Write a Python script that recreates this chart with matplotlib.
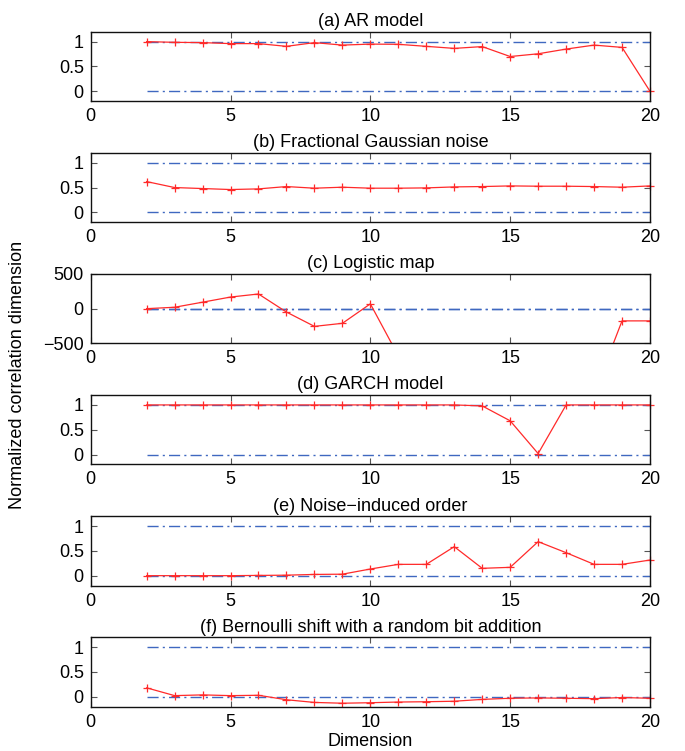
import matplotlib
matplotlib.use("Agg")
import matplotlib.pyplot as plt
import numpy as np

plt.rcParams['font.family'] = ['Liberation Sans', 'DejaVu Sans']

dims = list(range(2, 21))

titles = [
    "(a) AR model",
    "(b) Fractional Gaussian noise",
    "(c) Logistic map",
    "(d) GARCH model",
    "(e) Noise\u2212induced order",
    "(f) Bernoulli shift with a random bit addition",
]

ar_model = [1.0, 0.986, 0.98, 0.96, 0.96, 0.905, 0.98, 0.93, 0.95, 0.946,
            0.905, 0.864, 0.90, 0.70, 0.755, 0.85, 0.93, 0.884, 0.0]
fgn = [0.62, 0.50, 0.48, 0.46, 0.473, 0.52, 0.487, 0.507, 0.487, 0.487,
       0.493, 0.513, 0.52, 0.533, 0.527, 0.527, 0.52, 0.507, 0.533]
logistic = [0, 20, 93, 167, 211, -49, -255, -211, 69, -680,
            -1500, -2000, -1800, -1600, -1400, -1300, -1221, -176, -176]
garch = [1.0, 1.0, 1.0, 1.0, 1.0, 1.0, 1.0, 1.0, 1.0, 1.0,
         1.0, 1.0, 0.98, 0.68, 0.02, 1.0, 1.0, 1.0, 1.0]
noise_order = [0.0, 0.0, 0.0, 0.0, 0.005, 0.01, 0.025, 0.03, 0.134, 0.228,
               0.228, 0.584, 0.148, 0.168, 0.685, 0.463, 0.228, 0.228, 0.315]
bernoulli = [0.18, 0.023, 0.038, 0.023, 0.03, -0.06, -0.114, -0.13, -0.12, -0.106,
             -0.1, -0.09, -0.053, -0.03, -0.023, -0.03, -0.038, -0.015, -0.03]

series = [ar_model, fgn, logistic, garch, noise_order, bernoulli]
ref_levels = [0, 1]
xticks = [0, 5, 10, 15, 20]
yticks_norm = [0, 0.5, 1]
yticks_log = [-500, 0, 500]

W, H = 685, 751
fig = plt.figure(figsize=(W / 100, H / 100), dpi=100)

left_px, right_px = 90.7, 650.0
top0, pitch, height_px = 31.7, 121.1, 69.5

fs = 13
ref_color = '#3f68c0'
line_color = '#ff2a2a'

for i, (title, vals) in enumerate(zip(titles, series)):
    top = top0 + i * pitch
    ax = fig.add_axes([left_px / W, 1 - (top + height_px) / H,
                       (right_px - left_px) / W, height_px / H])
    for lv in ref_levels:
        ax.plot([dims[0], dims[-1]], [lv, lv], linestyle='-.', color=ref_color,
                linewidth=1.0, dashes=(8, 3, 1.5, 3))
    is_log = (i == 2)
    ax.plot(dims, vals, color=line_color, linewidth=0.9, marker='+',
            markersize=6, markeredgewidth=0.9, clip_on=is_log)
    ax.set_xlim(0, 20)
    if is_log:
        ax.set_ylim(-500, 500)
        ax.set_yticks(yticks_log)
        ax.set_yticklabels([str(t).replace('-', '\u2212') for t in yticks_log])
    else:
        ax.set_ylim(-0.2, 1.2)
        ax.set_yticks(yticks_norm)
        ax.set_yticklabels(['0', '0.5', '1'])
    ax.set_xticks(xticks)
    ax.set_xticklabels([str(t) for t in xticks])
    ax.tick_params(direction='in', length=4, width=0.8, color='#555555',
                   top=True, right=True, labelsize=fs, pad=5)
    for s in ax.spines.values():
        s.set_linewidth(1.0)
        s.set_color('#111111')
    ax.set_title(title, fontsize=fs, pad=4)

fig.text(18 / W, 1 - 375 / H, "Normalized correlation dimension", rotation=90,
         ha='center', va='center', fontsize=fs)
fig.text((left_px + right_px) / 2 / W, 1 - 741 / H, "Dimension",
         ha='center', va='center', fontsize=fs)

fig.savefig("out.png", dpi=100)
